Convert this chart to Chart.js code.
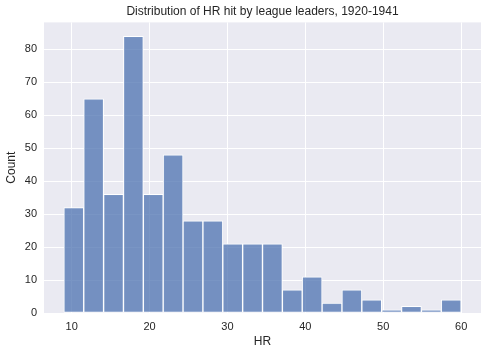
<!DOCTYPE html>
<html>
<head>
<meta charset="utf-8">
<script src="https://cdn.jsdelivr.net/npm/chart.js@4/dist/chart.umd.min.js"></script>
<style>
  html, body { margin: 0; padding: 0; background: #fff; }
  #wrap { width: 488px; height: 353px; }
</style>
</head>
<body>
<div id="wrap"><canvas id="hist"></canvas></div>
<script>
// --- Data ---
const binStart = 9;
const binWidth = 2.55;
const counts = [32, 65, 36, 84, 36, 48, 28, 28, 21, 21, 21, 7, 11, 3, 7, 4, 1, 2, 1, 4];
const xTicks = [10, 20, 30, 40, 50, 60];
const yTicks = [0, 10, 20, 30, 40, 50, 60, 70, 80];

const centers = counts.map((c, i) => binStart + binWidth * (i + 0.5));
const points = counts.map((c, i) => ({ x: centers[i], y: c }));

const textColor = '#262626';
const font = { family: 'Liberation Sans, Arial, sans-serif', size: 11 };

// seaborn darkgrid background behind the plot
const bgPlugin = {
  id: 'plotBg',
  beforeDraw(chart) {
    const { ctx, chartArea: a } = chart;
    ctx.save();
    ctx.fillStyle = '#EAEAF2';
    ctx.fillRect(a.left, a.top, a.right - a.left, a.bottom - a.top);
    ctx.restore();
  }
};

new Chart(document.getElementById('hist'), {
  type: 'bar',
  data: {
    datasets: [{
      label: 'Count',
      data: points,
      backgroundColor: 'rgba(76,114,176,0.75)',
      borderColor: '#ffffff',
      borderWidth: 1,
      barPercentage: 1,
      categoryPercentage: 1,
      borderSkipped: false
    }]
  },
  options: {
    responsive: true,
    maintainAspectRatio: false,
    animation: false,
    layout: { padding: { left: 0, right: 7, top: 0, bottom: 0 } },
    scales: {
      x: {
        type: 'linear',
        offset: false,
        min: 6.45,
        max: 62.55,
        afterBuildTicks: s => { s.ticks = xTicks.map(v => ({ value: v })); },
        afterFit: s => { s.height = 40; },
        grid: { color: '#ffffff', lineWidth: 1, drawTicks: false, offset: false },
        border: { display: false },
        ticks: { color: textColor, font, padding: 7 },
        title: { display: true, text: 'HR', color: textColor, font: { ...font, size: 12 }, padding: { top: 0, bottom: 4 } }
      },
      y: {
        min: 0,
        max: 88.2,
        afterBuildTicks: s => { s.ticks = yTicks.map(v => ({ value: v })); },
        afterFit: s => { s.width = 44; },
        grid: { color: '#ffffff', lineWidth: 1, drawTicks: false },
        border: { display: false },
        ticks: { color: textColor, font, padding: 7 },
        title: { display: true, text: 'Count', color: textColor, font: { ...font, size: 12 }, padding: { top: 4, bottom: 0 } }
      }
    },
    plugins: {
      legend: { display: false },
      tooltip: { enabled: false },
      title: {
        display: true,
        fullSize: false,
        text: 'Distribution of HR hit by league leaders, 1920-1941',
        color: textColor,
        font: { ...font, size: 12, weight: 'normal' },
        padding: { top: 4, bottom: 4 }
      }
    }
  },
  plugins: [bgPlugin]
});
</script>
</body>
</html>
